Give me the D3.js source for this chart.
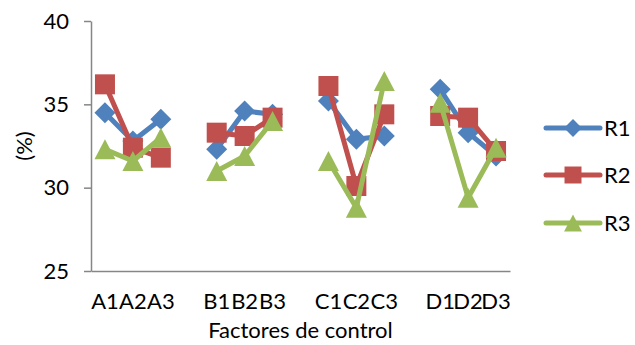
<!DOCTYPE html>
<html>
<head>
<meta charset="utf-8">
<script src="https://cdn.jsdelivr.net/npm/d3@7"></script>
<style>
  html, body { margin: 0; padding: 0; background: #fff; }
  svg { display: block; }
  text { font-family: Lato, "Open Sans", sans-serif; fill: #000; }
</style>
</head>
<body>
<svg id="chart" width="635" height="345"></svg>
<script>
// Category slots; empty strings are the gaps between factor groups
const categories = ["A1", "A2", "A3", "", "B1", "B2", "B3", "", "C1", "C2", "C3", "", "D1", "D2", "D3"];
const seriesNames = ["R1", "R2", "R3"];
const r1 = [34.5, 32.8, 34.1, null, 32.3, 34.6, 34.4, null, 35.2, 32.9, 33.1, null, 35.9, 33.3, 31.9];
const r2 = [36.2, 32.4, 31.8, null, 33.3, 33.1, 34.2, null, 36.1, 30.1, 34.4, null, 34.3, 34.2, 32.2];
const r3 = [32.3, 31.6, 33.0, null, 31.0, 31.9, 34.0, null, 31.6, 28.8, 36.4, null, 35.1, 29.4, 32.4];
const yTicks = [25, 30, 35, 40];
const yTitle = "(%)";
const xTitle = "Factores de control";

const colors = ["#4F81BD", "#C0504D", "#9BBB59"];
const markers = ["diamond", "square", "triangle"];
const seriesValues = [r1, r2, r3];
const fontSize = "22px";

const svg = d3.select("#chart");
const plot = { left: 91, right: 510, top: 21, bottom: 271 };

const x = d3.scaleBand()
  .domain(d3.range(categories.length))
  .range([plot.left, plot.right]);
const y = d3.scaleLinear()
  .domain([25, 40])
  .range([plot.bottom, plot.top]);

const axisColor = "#868686";

// Y axis
const yAxis = svg.append("g")
  .attr("transform", `translate(${plot.left},0)`)
  .call(d3.axisLeft(y).tickValues(yTicks).tickSize(7).tickSizeOuter(0).tickPadding(15));
yAxis.select(".domain").attr("stroke", axisColor).attr("stroke-width", 1.5);
yAxis.selectAll(".tick line").attr("stroke", axisColor).attr("stroke-width", 1.5);
yAxis.selectAll("text").style("font-size", fontSize).style("font-family", "Lato, sans-serif").attr("fill", "#000");

// X axis
const xAxis = svg.append("g")
  .attr("transform", `translate(0,${plot.bottom})`)
  .call(d3.axisBottom(x).tickSize(0).tickSizeOuter(0).tickPadding(22).tickFormat(i => categories[i]));
xAxis.select(".domain").attr("stroke", axisColor).attr("stroke-width", 1.5);
xAxis.selectAll("text").style("font-size", fontSize).style("font-family", "Lato, sans-serif").attr("fill", "#000");

// Axis titles
svg.append("text")
  .attr("transform", `translate(32,${(plot.top + plot.bottom) / 2}) rotate(-90)`)
  .attr("text-anchor", "middle")
  .style("font-size", fontSize)
  .text(yTitle);
svg.append("text")
  .attr("x", (plot.left + plot.right) / 2)
  .attr("y", 338)
  .attr("text-anchor", "middle")
  .style("font-size", fontSize)
  .text(xTitle);

// Marker shapes centred on the origin
function markerPath(kind) {
  if (kind === "diamond") {
    const r = 10.5;
    return `M0,${-r}L${r},0L0,${r}L${-r},0Z`;
  }
  if (kind === "square") {
    const h = 10;
    return `M${-h},${-h}H${h}V${h}H${-h}Z`;
  }
  const w = 10.5, h = 10;
  return `M0,${-h}L${w},${h}L${-w},${h}Z`;
}

const cx = i => x(i) + x.bandwidth() / 2;
const line = d3.line()
  .defined(d => d.v !== null)
  .x(d => cx(d.i))
  .y(d => y(d.v));

seriesValues.forEach((vals, s) => {
  const pts = vals.map((v, i) => ({ i, v }));
  const g = svg.append("g").attr("class", "series-" + seriesNames[s]);
  g.append("path")
    .datum(pts)
    .attr("d", line)
    .attr("fill", "none")
    .attr("stroke", colors[s])
    .attr("stroke-width", 5)
    .attr("stroke-linejoin", "round")
    .attr("stroke-linecap", "round");
  g.selectAll("path.marker")
    .data(pts.filter(d => d.v !== null))
    .join("path")
    .attr("class", "marker")
    .attr("transform", d => `translate(${cx(d.i)},${y(d.v)})`)
    .attr("d", markerPath(markers[s]))
    .attr("fill", colors[s]);
});

// Legend
const legend = svg.append("g");
const legendY = [128, 175, 223];
seriesNames.forEach((name, s) => {
  const g = legend.append("g").attr("transform", `translate(0,${legendY[s]})`);
  g.append("line")
    .attr("x1", 546).attr("x2", 600)
    .attr("y1", 0).attr("y2", 0)
    .attr("stroke", colors[s])
    .attr("stroke-width", 5)
    .attr("stroke-linecap", "round");
  g.append("path")
    .attr("transform", "translate(573,0) scale(0.85)")
    .attr("d", markerPath(markers[s]))
    .attr("fill", colors[s]);
  g.append("text")
    .attr("x", 604)
    .attr("y", 0)
    .attr("dy", "0.35em")
    .style("font-size", fontSize)
    .text(name);
});
</script>
</body>
</html>
